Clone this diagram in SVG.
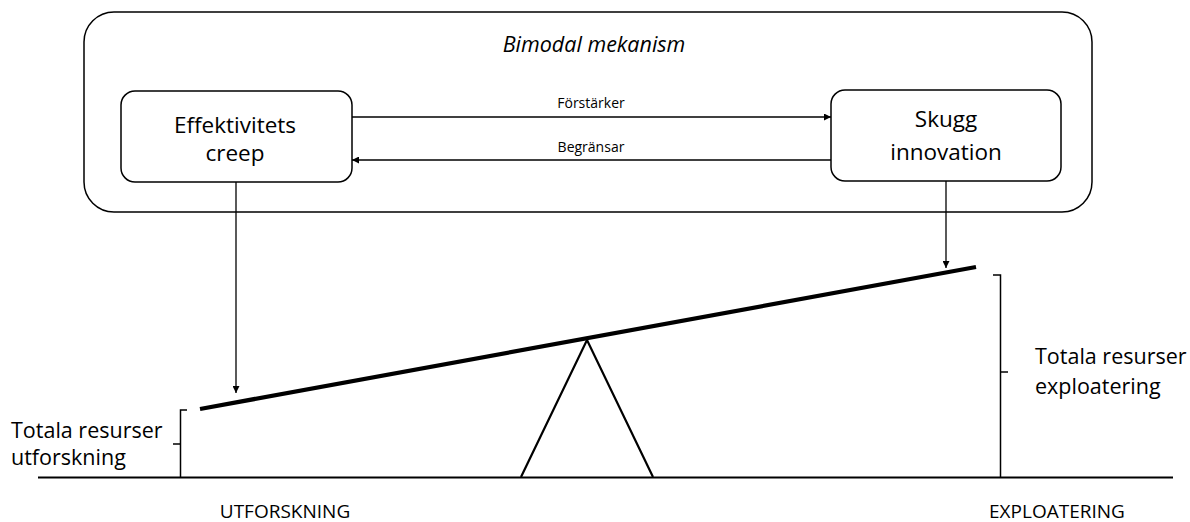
<svg xmlns="http://www.w3.org/2000/svg" width="1190" height="522" viewBox="0 0 1190 522">
  <style>
    .box { fill: #fff; stroke: #000; stroke-width: 1.5; }
    .txt { font-family: "Open Sans", "Noto Sans", sans-serif; fill: #000; }
    .node { font-size: 22.5px; text-anchor: middle; }
    .lbl { font-size: 14px; text-anchor: middle; }
    .side { font-size: 21.5px; }
    .axis { font-size: 19px; text-anchor: middle; }
    .conn { stroke: #000; stroke-width: 1.3; fill: none; }
    .thin { stroke: #000; stroke-width: 1.5; fill: none; }
  </style>
  <defs>
    <marker id="arrow" viewBox="0 0 10 10" refX="10" refY="5" markerWidth="7" markerHeight="7" markerUnits="userSpaceOnUse" orient="auto">
      <path d="M0,0 L10,5 L0,10 z" fill="#000"/>
    </marker>
  </defs>

  <!-- Outer frame -->
  <g id="bimodal">
    <rect class="box" x="84" y="12" width="1008" height="200" rx="30" ry="30"/>
    <text class="txt" x="594" y="52" font-size="21.5" font-style="italic" text-anchor="middle">Bimodal mekanism</text>
  </g>

  <g id="effektivitet">
    <rect class="box" x="121" y="91" width="231" height="91" rx="14" ry="14"/>
    <text class="txt node" x="235" y="133">Effektivitets</text>
    <text class="txt node" x="235" y="161">creep</text>
  </g>

  <g id="skugg">
    <rect class="box" x="831" y="90" width="230" height="91" rx="14" ry="14"/>
    <text class="txt node" x="946" y="127">Skugg</text>
    <text class="txt node" x="946" y="160">innovation</text>
  </g>

  <!-- Connectors -->
  <g id="connectors">
    <line class="conn" x1="352" y1="117" x2="831" y2="117" marker-end="url(#arrow)"/>
    <text class="txt lbl" x="591" y="108">Förstärker</text>
    <line class="conn" x1="831" y1="160" x2="352" y2="160" marker-end="url(#arrow)"/>
    <text class="txt lbl" x="591" y="152">Begränsar</text>
    <line class="conn" x1="236" y1="182" x2="236" y2="393" marker-end="url(#arrow)"/>
    <line class="conn" x1="946" y1="181" x2="946" y2="268" marker-end="url(#arrow)"/>
  </g>

  <!-- Seesaw -->
  <g id="seesaw">
    <line x1="38" y1="477.5" x2="1173" y2="477.5" stroke="#000" stroke-width="2.2"/>
    <polyline points="521,477 587,340 653,477" fill="none" stroke="#000" stroke-width="2.2" stroke-linejoin="miter"/>
    <line x1="200" y1="409" x2="976" y2="267" stroke="#000" stroke-width="4.2"/>
  </g>

  <!-- Left resource bracket -->
  <g id="utforskning">
    <path class="thin" d="M187,410 L180.5,410 L180.5,477"/>
    <line class="thin" x1="173" y1="444" x2="180.5" y2="444"/>
    <text class="txt side" x="11" y="438">Totala resurser</text>
    <text class="txt side" x="11" y="465">utforskning</text>
    <text class="txt axis" x="285" y="518">UTFORSKNING</text>
  </g>

  <!-- Right resource bracket -->
  <g id="exploatering">
    <path class="thin" d="M993,275 L1000.5,275 L1000.5,477"/>
    <line class="thin" x1="1000.5" y1="372" x2="1008" y2="372"/>
    <text class="txt side" x="1035" y="364">Totala resurser</text>
    <text class="txt side" x="1035" y="394">exploatering</text>
    <text class="txt axis" x="1057" y="518">EXPLOATERING</text>
  </g>
</svg>
